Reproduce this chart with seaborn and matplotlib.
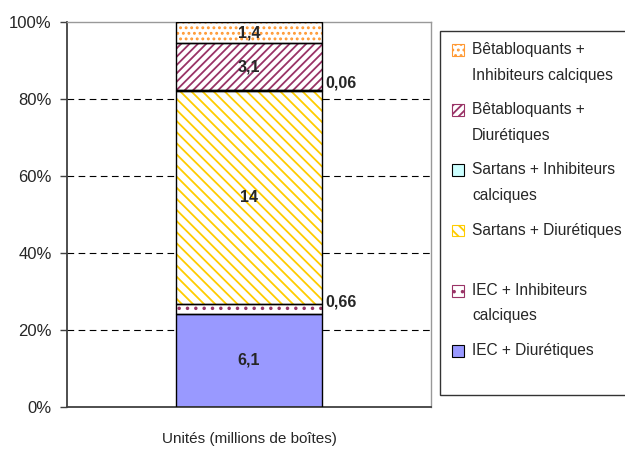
import numpy as np
import pandas as pd
import matplotlib
matplotlib.use('Agg')
import matplotlib.pyplot as plt
from matplotlib.patches import Patch, Rectangle
from matplotlib.legend_handler import HandlerPatch
import seaborn as sns

# données (millions de boîtes)
series = ['IEC + Diurétiques', 'IEC + Inhibiteurs calciques', 'Sartans + Diurétiques',
          'Sartans + Inhibiteurs calciques', 'Bêtabloquants + Diurétiques',
          'Bêtabloquants + Inhibiteurs calciques']
legend_labels = ['IEC + Diurétiques\n', 'IEC + Inhibiteurs\ncalciques', 'Sartans + Diurétiques\n',
                 'Sartans + Inhibiteurs\ncalciques', 'Bêtabloquants +\nDiurétiques',
                 'Bêtabloquants +\nInhibiteurs calciques']
values = [6.1, 0.66, 14, 0.06, 3.1, 1.4]
value_labels = ['6,1', '0,66', '14', '0,06', '3,1', '1,4']
category = 'Unités (millions de boîtes)'

fills = ['#9999FF', 'white', 'white', '#CCFFFF', 'white', 'white']
hatch_colors = ['#9999FF', '#993366', '#FFCC00', '#CCFFFF', '#993366', '#FF9933']
hatches = [None, '..', '\\\\\\', None, '////', '...']

sns.set_style('white')
plt.rcParams['font.family'] = ['Liberation Sans', 'DejaVu Sans']
plt.rcParams['hatch.linewidth'] = 1.3

fig = plt.figure(figsize=(6.25, 4.5), dpi=100)
ax = fig.add_axes([0.107, 0.096, 0.583, 0.855])

pct = np.array(values) / np.sum(values) * 100
bottom = 0
for i in range(len(series)):
    df = pd.DataFrame({'cat': [category], 'pct': [pct[i]]})
    sns.barplot(data=df, x='cat', y='pct', bottom=bottom, color=fills[i], saturation=1,
                hatch=hatches[i], edgecolor=hatch_colors[i], linewidth=0, width=0.4,
                ax=ax, zorder=2)
    # contour noir
    ax.bar(0, pct[i], bottom=bottom, width=0.4, fill=False, edgecolor='black',
           linewidth=1, zorder=3)
    mid = bottom + pct[i] / 2
    if pct[i] > 3:
        ax.text(0, mid, value_labels[i], ha='center', va='center', fontsize=11.5,
                fontweight='bold', zorder=4)
    else:
        ax.text(0.21, mid, value_labels[i], ha='left', va='bottom', fontsize=11.5,
                fontweight='bold', zorder=4)
    bottom += pct[i]

ax.set_ylim(0, 100)
ax.set_xlim(-0.5, 0.5)
ax.set_yticks([0, 20, 40, 60, 80, 100])
ax.set_yticklabels([f'{t}%' for t in [0, 20, 40, 60, 80, 100]], fontsize=12)
for y in [20, 40, 60, 80]:
    ax.axhline(y, color='black', linestyle=(0, (6, 4)), linewidth=0.8, zorder=1)

ax.set_xlabel('')
ax.set_ylabel('')
ax.tick_params(axis='x', length=0, pad=18, labelsize=11)
ax.tick_params(axis='y', left=True, length=5, width=1, color='#404040', pad=6)
for side in ['left', 'bottom']:
    ax.spines[side].set_color('#404040')
    ax.spines[side].set_linewidth(1.3)
for side in ['top', 'right']:
    ax.spines[side].set_color('#999999')
    ax.spines[side].set_linewidth(1)


# carré de légende aligné sur la première ligne du texte
def square_up(legend, orig_handle, xdescent, ydescent, width, height, fontsize):
    return Rectangle((-xdescent, -ydescent + 0.84 * fontsize), width, height)


handles = [Patch(facecolor=fills[i], hatch=hatches[i], edgecolor=hatch_colors[i] if hatches[i] else 'black',
                 linewidth=0.8) for i in range(len(series))]
leg = fig.legend(handles[::-1], legend_labels[::-1], loc='upper left',
                 bbox_to_anchor=(0.704, 0.932), fontsize=11.2, frameon=True,
                 fancybox=False, edgecolor='black', handlelength=0.8, handleheight=0.8,
                 handletextpad=0.5, labelspacing=1.24, borderpad=0.75, borderaxespad=0,
                 handler_map={Patch: HandlerPatch(patch_func=square_up)})
leg.get_frame().set_linewidth(1)
for t in leg.get_texts():
    t.set_linespacing(1.9)

fig.savefig('out.png', dpi=100)
